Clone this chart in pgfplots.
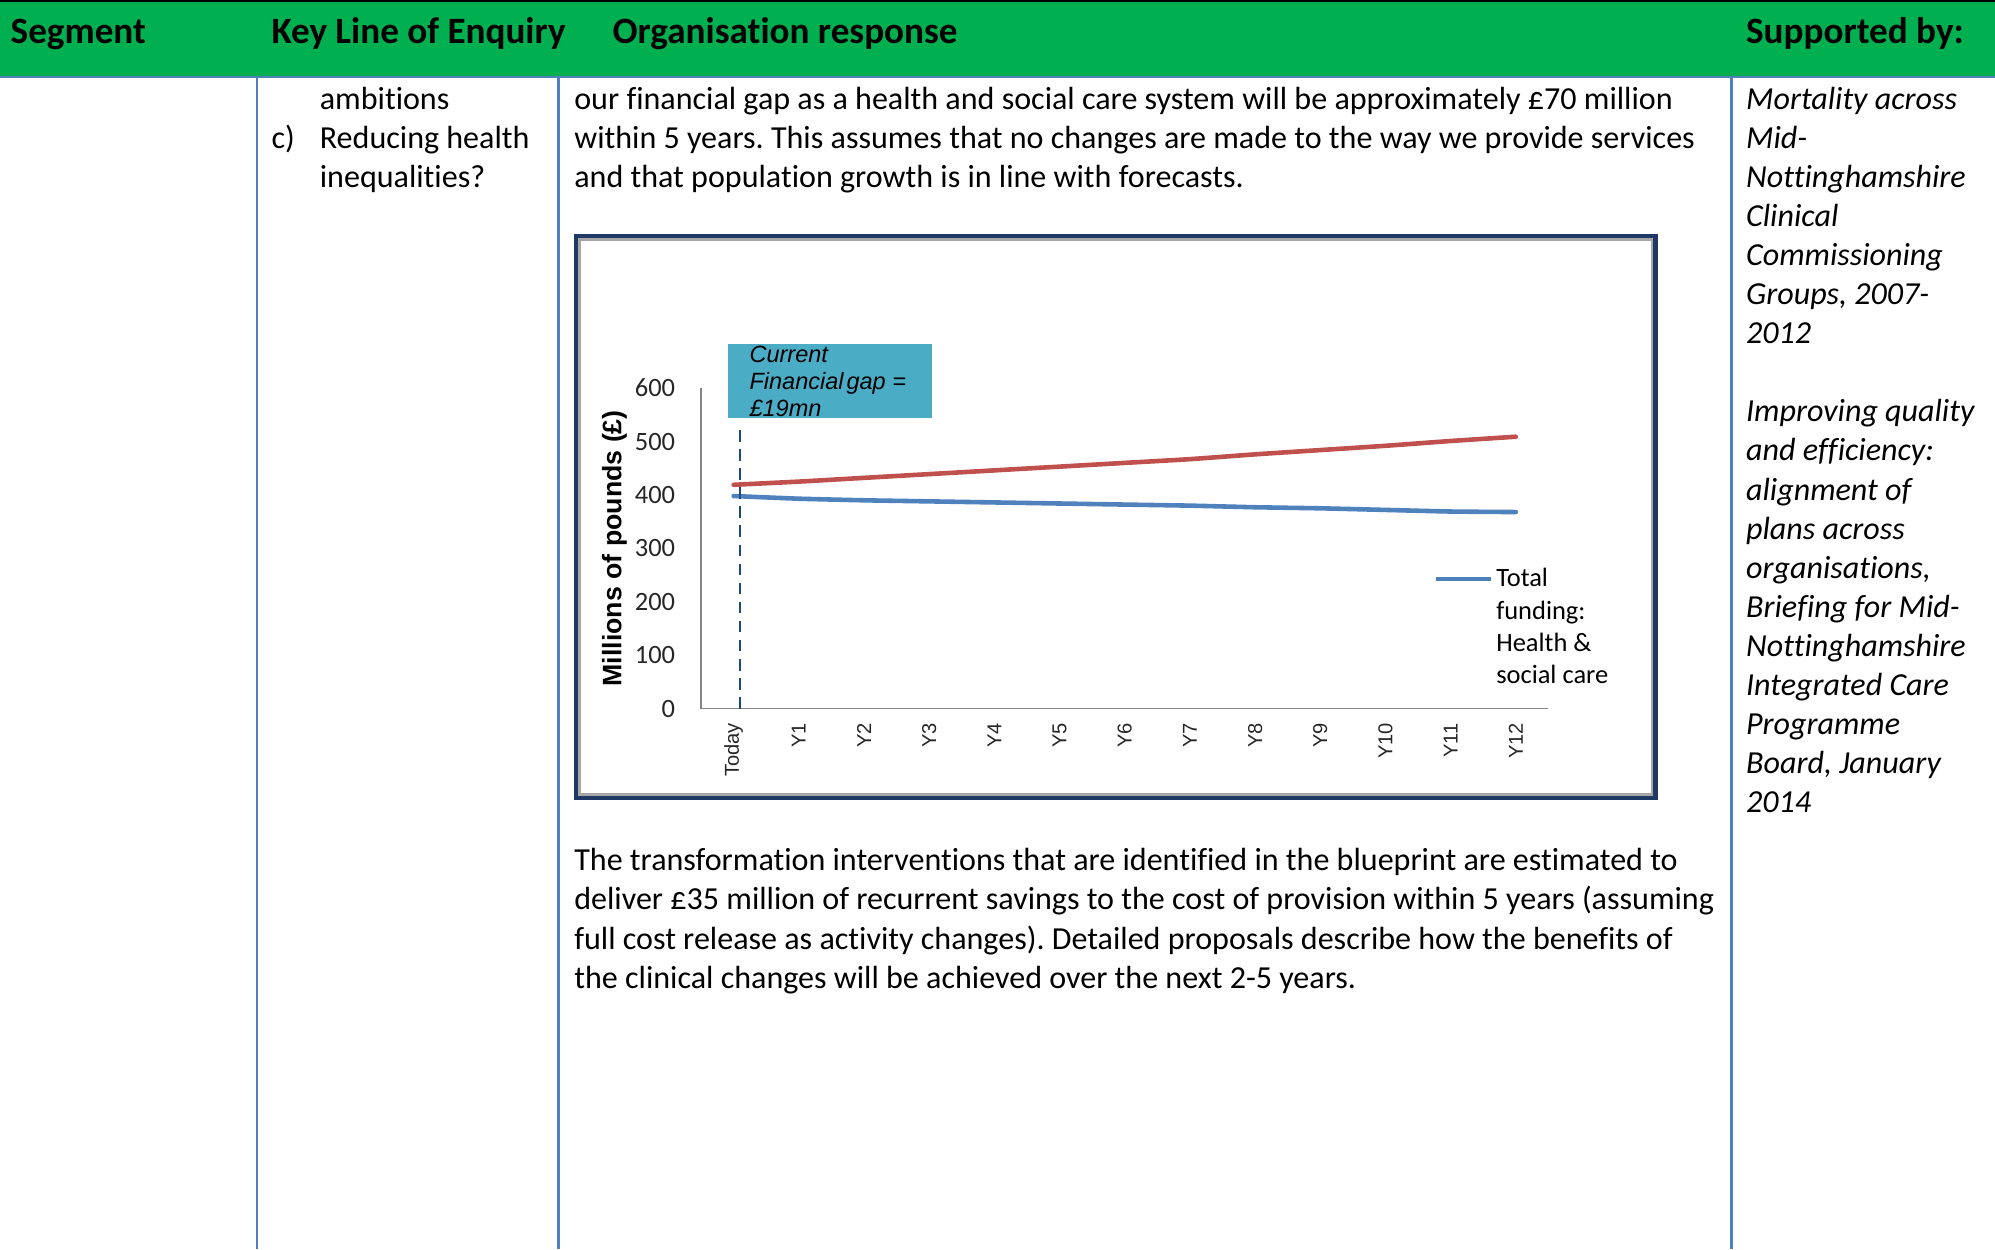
\documentclass[border=0pt]{standalone}
\usepackage{fontspec}
\setmainfont{Carlito}[Ligatures={NoCommon}]
\newfontfamily\arial{Liberation Sans}
\usepackage{pgfplots}
\pgfplotsset{compat=1.18}

\definecolor{hdrgreen}{HTML}{00B050}
\definecolor{rulecol}{HTML}{4F81BD}
\definecolor{navy}{HTML}{1F3864}
\definecolor{boxteal}{HTML}{4BACC6}
\definecolor{redline}{HTML}{C0504D}
\definecolor{blueline}{HTML}{4F81BD}
\definecolor{axisgray}{HTML}{868686}
\definecolor{dashblue}{HTML}{1F497D}

\frenchspacing
\newcommand\bodyfont{\fontsize{12.6}{15.35}\selectfont}
\newcommand\headfont{\bfseries\fontsize{14.6}{17}\selectfont}
\tikzset{
  txt/.style={anchor=base west, inner sep=0pt, font=\bodyfont},
  itxt/.style={anchor=base west, inner sep=0pt, font=\bodyfont\itshape},
  htxt/.style={anchor=base west, inner sep=0pt, font=\headfont},
}

\begin{document}
\begin{tikzpicture}
\path[use as bounding box] (0,0) rectangle (784pt,-491pt);
\begin{scope}[x=0.5pt, y=-0.5pt]
  % page and table frame
  \fill[white] (0,0) rectangle (1568,982);
  \fill[hdrgreen] (0,1.5) rectangle (1568,59.5);
  \fill[black] (0,0) rectangle (1568,1.5);
  \draw[rulecol, line width=1pt] (0,60.5) -- (1568,60.5);
  \foreach \cx in {202,439,1361}
    \draw[rulecol, line width=1pt] (\cx,60.5) -- (\cx,982);

  % header row
  \node[htxt] at (8,34) {Segment};
  \node[htxt] at (213,34) {Key Line of Enquiry};
  \node[htxt] at (481,34) {Organisation response};
  \node[htxt] at (1372,34) {Supported by:};

  % key line of enquiry column
  \node[txt] at (251,86) {ambitions};
  \node[txt] at (213,116.7) {c)};
  \node[txt] at (251,116.7) {Reducing health};
  \node[txt] at (251,147.4) {inequalities?};

  % organisation response column
  \node[txt] at (451,86) {our financial gap as a health and social care system will be approximately £70 million};
  \node[txt] at (451,116.7) {within 5 years. This assumes that no changes are made to the way we provide services};
  \node[txt] at (451,147.4) {and that population growth is in line with forecasts.};

  \node[txt] at (451,684.5) {The transformation interventions that are identified in the blueprint are estimated to};
  \node[txt] at (451,715.2) {deliver £35 million of recurrent savings to the cost of provision within 5 years (assuming};
  \node[txt] at (451,745.9) {full cost release as activity changes). Detailed proposals describe how the benefits of};
  \node[txt] at (451,776.6) {the clinical changes will be achieved over the next 2-5 years.};

  % supported-by column
  \node[itxt] at (1372,86) {Mortality across};
  \node[itxt] at (1372,116.7) {Mid-};
  \node[itxt] at (1372,147.4) {Nottinghamshire};
  \node[itxt] at (1372,178.1) {Clinical};
  \node[itxt] at (1372,208.8) {Commissioning};
  \node[itxt] at (1372,239.5) {Groups, 2007-};
  \node[itxt] at (1372,270.2) {2012};
  \node[itxt] at (1372,331.6) {Improving quality};
  \node[itxt] at (1372,362.3) {and efficiency:};
  \node[itxt] at (1372,393) {alignment of};
  \node[itxt] at (1372,423.7) {plans across};
  \node[itxt] at (1372,454.4) {organisations,};
  \node[itxt] at (1372,485.1) {Briefing for Mid-};
  \node[itxt] at (1372,515.8) {Nottinghamshire};
  \node[itxt] at (1372,546.5) {Integrated Care};
  \node[itxt] at (1372,577.2) {Programme};
  \node[itxt] at (1372,607.9) {Board, January};
  \node[itxt] at (1372,638.6) {2014};

  % chart frame
  \fill[white] (452.9,185.6) rectangle (1301.2,627.1);
  \draw[navy, line width=1.7pt] (452.9,185.6) rectangle (1301.2,627.1);
  \draw[black!35, line width=1pt] (455.6,188.2) rectangle (1298.5,624.5);

  % annotation box
  \fill[boxteal] (572.5,270) rectangle (732.3,328.8);
  \begin{scope}[every node/.style={anchor=base west, inner sep=0pt,
      font=\arial\itshape\fontsize{9.25}{10.5}\selectfont}]
    \node at (588.7,285) {Current};
    \node at (588.7,305.8) {Financial\hspace{0.12em}gap =};
    \node at (588.7,327.5) {£19mn};
  \end{scope}

  % key
  \draw[blueline, line width=1.8pt] (1129,455) -- (1171.6,455);
  \begin{scope}[every node/.style={anchor=base west, inner sep=0pt,
      font=\fontsize{10.4}{12.7}\selectfont}]
    \node at (1175.6,461) {Total};
    \node at (1175.6,486.5) {funding:};
    \node at (1175.6,512) {Health \&};
    \node at (1175.6,537.5) {social care};
  \end{scope}
\end{scope}

\begin{axis}[
  at={(275.5pt,-278.5pt)}, anchor=south west,
  scale only axis, width=333pt, height=126pt,
  xmin=-0.5, xmax=12.5, ymin=0, ymax=600,
  clip=false,
  axis x line*=bottom, axis y line*=left,
  axis line style={axisgray, line width=0.5pt, -},
  major tick length=0pt,
  xtick={0,...,12},
  xticklabels={Today,Y1,Y2,Y3,Y4,Y5,Y6,Y7,Y8,Y9,Y10,Y11,Y12},
  x tick label style={rotate=90, anchor=east, inner sep=0pt,
    font=\arial\fontsize{7.9}{9}\selectfont, text=black!85},
  xticklabel shift=5.5pt,
  ytick={0,100,...,600},
  y tick label style={inner sep=0pt, font=\fontsize{10.4}{12}\selectfont, text=black!85},
  yticklabel shift=10pt,
  /pgf/number format/assume math mode=true,
  ylabel={Millions of pounds (£)},
  ylabel style={font=\arial\bfseries\fontsize{10.5}{12}\selectfont,
    at={(axis description cs:-0.1021,0.5)}, anchor=center},
]
  % projected cost of provision
  \addplot[redline, line width=1.8pt, line cap=round, smooth, tension=0.3]
    coordinates {(0,419) (1,425) (2,432) (3,439) (4,446) (5,453) (6,460)
                 (7,467) (8,476) (9,484) (10,492) (11,501) (12,509)};
  % total funding: health & social care
  \addplot[blueline, line width=1.8pt, line cap=round, smooth, tension=0.3]
    coordinates {(0,398) (1,393) (2,390) (3,388) (4,386) (5,384) (6,382)
                 (7,380) (8,377) (9,375) (10,372) (11,369) (12,368)};
  % today marker
  \addplot[dashblue, line width=1pt, dash pattern=on 4.5pt off 3pt]
    coordinates {(0.1,0) (0.1,525)};
\end{axis}
\end{tikzpicture}
\end{document}
